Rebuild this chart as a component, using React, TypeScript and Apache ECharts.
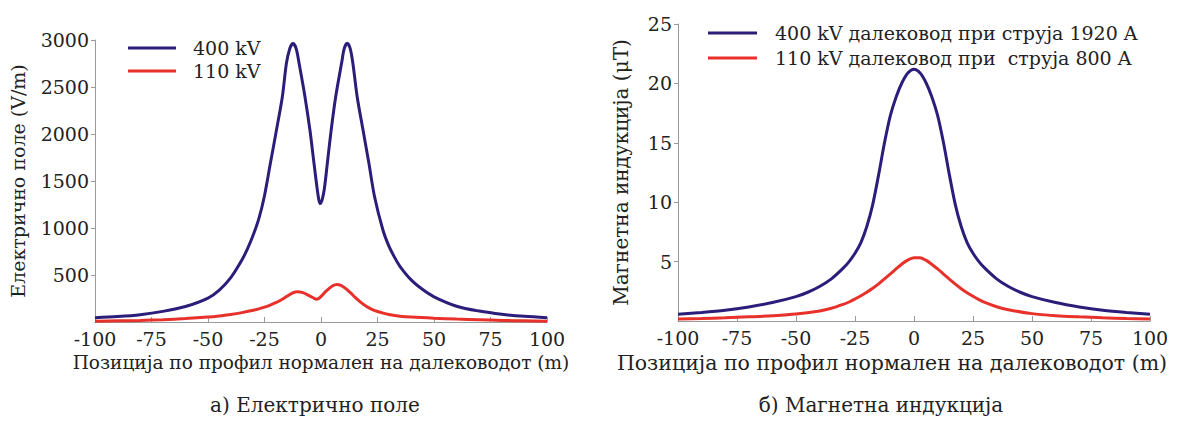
import React, { useEffect, useRef } from "react";
import * as echarts from "echarts";

const xTicksMin = -100;
const xTicksMax = 100;
const xInterval = 25;

const leftSeriesNames = ["400 kV", "110 kV"];
const rightSeriesNames = [
  "400 kV далековод при струја 1920 A",
  "110 kV далековод при  струја 800 A",
];

// Electric field (V/m), 400 kV line
const eField400: [number, number][] = [
  [-100, 45], [-90, 58], [-80, 78], [-70, 113], [-60, 165], [-50, 255],
  [-45, 340], [-40, 470], [-35, 660], [-32.5, 780], [-30, 925], [-27.5, 1100],
  [-25.1, 1333], [-22.4, 1688], [-19.7, 2042], [-17.1, 2397], [-15.3, 2752],
  [-13.8, 2910], [-12.4, 2962], [-11, 2910], [-9.7, 2752], [-7.1, 2397],
  [-4.9, 2042], [-3.1, 1688], [-1.2, 1333], [-0.4, 1260], [0.5, 1300], [1.5, 1420],
  [2.8, 1688], [4.5, 2042], [6.5, 2397], [9.1, 2752], [10.3, 2910], [11.6, 2965],
  [12.9, 2910], [14.1, 2752], [16, 2397], [18.6, 2042], [21.2, 1688], [23.7, 1333],
  [27.4, 979], [30, 810], [32.5, 690], [35, 590], [40, 445], [45, 345], [50, 268],
  [60, 168], [70, 116], [80, 82], [90, 60], [100, 46],
];

// Electric field (V/m), 110 kV line
const eField110: [number, number][] = [
  [-100, 8], [-90, 12], [-80, 17], [-70, 25], [-60, 36], [-50, 52], [-45, 64],
  [-40, 80], [-35, 100], [-30, 125], [-27.5, 140], [-25, 158], [-22.5, 180],
  [-20, 205], [-17.5, 236], [-15, 275], [-12.5, 310], [-10.5, 323], [-8, 312],
  [-5, 277], [-3, 251], [-2, 243], [-1, 250], [0, 272], [2.5, 333], [5, 383],
  [7, 400], [9, 388], [11, 355], [13, 312], [15, 265], [17.5, 212], [20, 168],
  [22.5, 135], [25, 112], [27.5, 94], [30, 80], [35, 62], [40, 52], [50, 40],
  [60, 31], [70, 24], [80, 17], [90, 12], [100, 8],
];

// Magnetic induction (µT), 400 kV line at 1920 A
const bField400: [number, number][] = [
  [-100, 0.56], [-90, 0.71], [-80, 0.9], [-70, 1.18], [-60, 1.55], [-50, 2.05],
  [-45, 2.42], [-40, 2.9], [-35, 3.55], [-30, 4.45], [-27.5, 5.0], [-25, 5.7],
  [-22.5, 6.6], [-20, 7.95], [-17.5, 9.8], [-15, 12.3], [-12.5, 15.0], [-10, 17.3],
  [-7.5, 18.9], [-5, 20.1], [-2.5, 20.9], [0, 21.2], [2.5, 20.9], [5, 20.1],
  [7.5, 18.9], [10, 17.3], [12.5, 15.0], [15, 12.3], [17.5, 9.8], [20, 7.95],
  [22.5, 6.6], [25, 5.7], [27.5, 5.0], [30, 4.45], [35, 3.55], [40, 2.9],
  [45, 2.42], [50, 2.05], [60, 1.55], [70, 1.18], [80, 0.9], [90, 0.71], [100, 0.56],
];

// Magnetic induction (µT), 110 kV line at 800 A
const bField110: [number, number][] = [
  [-100, 0.17], [-90, 0.21], [-80, 0.27], [-70, 0.35], [-60, 0.44], [-50, 0.58],
  [-40, 0.85], [-35, 1.07], [-30, 1.4], [-27.5, 1.6], [-25, 1.85], [-22.5, 2.12],
  [-20, 2.42], [-17.5, 2.75], [-15, 3.12], [-12.5, 3.55], [-10, 3.97], [-7.5, 4.4],
  [-5, 4.82], [-2.5, 5.15], [0, 5.32], [2.5, 5.33], [5, 5.12], [7.5, 4.78],
  [10, 4.38], [12.5, 3.95], [15, 3.52], [17.5, 3.1], [20, 2.72], [22.5, 2.38],
  [25, 2.08], [27.5, 1.8], [30, 1.56], [35, 1.2], [40, 0.95], [50, 0.62],
  [60, 0.45], [70, 0.35], [80, 0.27], [90, 0.21], [100, 0.16],
];

const NAVY = "#2b1e7a";
const RED = "#e8312b";
const FONT = "DejaVu Serif";
const AXIS_GRAY = "#9a9a9a";
const TEXT = "#222";
const TICK_SIZE = 19;

const xTitle = "Позиција по профил нормален на далеководот (m)";

function xAxisFor(gridIndex: number, titleSize: number, titlePadding: number[]) {
  return {
    type: "value",
    gridIndex,
    min: xTicksMin,
    max: xTicksMax,
    interval: xInterval,
    name: xTitle,
    nameLocation: "middle",
    nameGap: 31,
    nameTextStyle: { fontSize: titleSize, color: TEXT, fontFamily: FONT, padding: titlePadding },
    axisLine: { show: true, onZero: false, lineStyle: { color: AXIS_GRAY, width: 1 } },
    axisTick: { show: true, inside: true, length: 5, lineStyle: { color: AXIS_GRAY } },
    axisLabel: { fontSize: TICK_SIZE, color: TEXT, fontFamily: FONT, margin: 7 },
    splitLine: { show: false },
  };
}

function yAxisFor(
  gridIndex: number,
  max: number,
  interval: number,
  name: string,
  nameGap: number,
  titleSize: number
) {
  return {
    type: "value",
    gridIndex,
    min: 0,
    max,
    interval,
    name,
    nameLocation: "middle",
    nameGap,
    nameTextStyle: { fontSize: titleSize, color: TEXT, fontFamily: FONT },
    axisLine: { show: true, onZero: false, lineStyle: { color: AXIS_GRAY, width: 1 } },
    axisTick: { show: true, inside: false, length: 4, lineStyle: { color: AXIS_GRAY } },
    axisLabel: {
      fontSize: TICK_SIZE,
      color: TEXT,
      fontFamily: FONT,
      margin: 6,
      showMinLabel: false,
      formatter: (v: number) => String(v),
    },
    splitLine: { show: false },
  };
}

function lineSeries(name: string, data: [number, number][], color: string, idx: number) {
  return {
    type: "line",
    name,
    data,
    xAxisIndex: idx,
    yAxisIndex: idx,
    showSymbol: false,
    smooth: 0.3,
    color,
    itemStyle: { color },
    lineStyle: { color, width: 3 },
  };
}

export default function App() {
  const ref = useRef<HTMLDivElement>(null);
  useEffect(() => {
    if (!ref.current) return;
    const chart = echarts.init(ref.current, undefined, { renderer: "svg" });
    chart.setOption({
      animation: false,
      backgroundColor: "#ffffff",
      textStyle: { fontFamily: FONT },
      grid: [
        { left: 95, top: 40, width: 452, height: 282 },
        { left: 678, top: 24, width: 472, height: 297 },
      ],
      xAxis: [xAxisFor(0, 18.5, [0, 0, 0, 0]), xAxisFor(1, 20.5, [0, 44, 0, 0])],
      yAxis: [
        yAxisFor(0, 3000, 500, "Електрично поле (V/m)", 68, 19),
        yAxisFor(1, 25, 5, "Магнетна индукција (μT)", 47, 20),
      ],
      legend: [
        {
          data: leftSeriesNames,
          orient: "vertical",
          left: 128,
          top: 37,
          padding: 0,
          itemGap: 1,
          itemWidth: 48,
          itemHeight: 3,
          icon: "rect",
          textStyle: { fontSize: TICK_SIZE, lineHeight: 22, color: TEXT, fontFamily: FONT, padding: [0, 0, 0, 12] },
        },
        {
          data: rightSeriesNames,
          orient: "vertical",
          left: 708,
          top: 22,
          padding: 0,
          itemGap: 3,
          itemWidth: 49,
          itemHeight: 3,
          icon: "rect",
          textStyle: { fontSize: TICK_SIZE, lineHeight: 22, color: TEXT, fontFamily: FONT, padding: [0, 0, 0, 13] },
        },
      ],
      series: [
        lineSeries(leftSeriesNames[0], eField400, NAVY, 0),
        lineSeries(leftSeriesNames[1], eField110, RED, 0),
        lineSeries(rightSeriesNames[0], bField400, NAVY, 1),
        lineSeries(rightSeriesNames[1], bField110, RED, 1),
      ],
      graphic: [
        {
          type: "text",
          x: 315,
          y: 405,
          style: {
            text: "а) Електрично поле",
            font: `20px "${FONT}"`,
            fill: TEXT,
            textAlign: "center",
            textVerticalAlign: "middle",
          },
        },
        {
          type: "text",
          x: 881,
          y: 405,
          style: {
            text: "б) Магнетна индукција",
            font: `20px "${FONT}"`,
            fill: TEXT,
            textAlign: "center",
            textVerticalAlign: "middle",
          },
        },
      ],
    });
    return () => chart.dispose();
  }, []);
  return (
    <div
      ref={ref}
      style={{ position: "absolute", left: 0, top: 0, width: 1178, height: 421, background: "#fff" }}
    />
  );
}
